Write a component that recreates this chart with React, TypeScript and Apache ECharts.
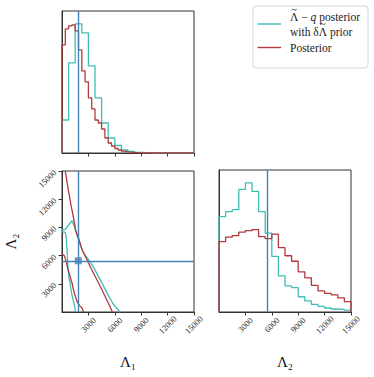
import React, { useEffect, useRef } from "react";
import * as echarts from "echarts";

// ---- data ----
const LAMBDA_MIN = 0;
const LAMBDA_MAX = 15000;
const TICKS = [3000, 6000, 9000, 12000, 15000];
const WIDE_BIN = 750;
const NARROW_BIN = 375;
const TRUE_L1 = 1850;
const TRUE_L2 = 5450;

// Lambda_1 marginal (top-left)
const cyanL1 = [33, 90, 129, 120, 87, 55, 30, 15, 7.5, 3, 1.7, 0.7, 0.3, 0, 0, 0, 0, 0, 0, 0];
const redL1 = [
  108, 124, 127, 128, 122, 103, 82, 71, 55, 44, 33, 30, 24, 15, 10, 7, 4.5, 3, 1.8, 1.2,
  0.8, 0.5, 0.3, 0.2, 0, 0, 0, 0, 0, 0, 0, 0, 0, 0, 0, 0, 0, 0, 0, 0,
];

// Lambda_2 marginal (bottom-right)
const cyanL2 = [95, 100, 102, 122, 128.5, 120, 100, 78.5, 55.3, 36, 26, 24.3, 15.2, 11, 7.5, 5.5, 4, 3, 2.7, 1.8];
const redL2 = [70, 74.5, 76, 79.5, 81, 82, 75, 73, 77.5, 64, 56, 50.5, 40, 34, 26.5, 21, 18.5, 17, 14, 10.3];

// 2D contours (bottom-left), [Lambda_1, Lambda_2]
const cyanOuter = [
  [0, 8725], [374, 8799], [752, 9257], [1130, 9725], [1399, 9087], [1701, 8193], [2075, 7129],
  [2453, 6245], [2950, 5650], [3550, 4831], [4150, 3767], [4750, 2703], [5320, 1639],
  [5900, 745], [6400, 213], [6600, 0],
];
const cyanInner = [
  [0, 8555], [374, 8480], [488, 7842], [563, 6778], [639, 5360], [752, 3937], [941, 2873],
  [1130, 1809], [1319, 1107], [1474, 394], [1512, 0],
];
const redOuter = [
  [374, 15000], [563, 13875], [752, 12810], [1017, 11385], [1319, 9970], [1584, 8555],
  [1900, 7800], [2300, 6597], [2750, 5714], [3300, 4650], [3880, 3586], [4450, 2522],
  [5000, 1458], [5450, 575], [5720, 0],
];
const redInner = [
  [0, 6139], [261, 6000], [488, 5360], [639, 4681], [866, 3976], [1134, 3086], [1399, 2022],
  [1701, 1135], [1966, 709], [2268, 425], [2453, 0],
];

// legend texts
const LEGEND_CYAN_1 = ["Λ", " − ", "q", " posterior"];
const LEGEND_CYAN_2 = ["with δ", "Λ", " prior"];
const LEGEND_RED = "Posterior";

// ---- styles ----
const CYAN = "#3dbfb5";
const RED = "#b3383b";
const BLUE = "#4682b4";
const FRAME = "#333333";
const FONT = "Liberation Serif";
const LEG_FS = 11.5;

function stepData(values: number[], bin: number) {
  const pts: number[][] = [[LAMBDA_MIN, 0]];
  values.forEach((v, i) => pts.push([LAMBDA_MIN + i * bin, v]));
  const last = values[values.length - 1];
  pts.push([LAMBDA_MIN + values.length * bin, last]);
  pts.push([LAMBDA_MIN + values.length * bin, 0]);
  return pts;
}

const histLine = (data: number[][], color: string, xi: number) => ({
  type: "line",
  xAxisIndex: xi,
  yAxisIndex: xi,
  data,
  step: "end",
  showSymbol: false,
  symbol: "none",
  lineStyle: { color, width: 1.3 },
  silent: true,
  clip: true,
});

const contour = (data: number[][], color: string) => ({
  type: "line",
  xAxisIndex: 1,
  yAxisIndex: 1,
  data,
  showSymbol: false,
  symbol: "none",
  lineStyle: { color, width: 1.3 },
  silent: true,
  clip: true,
});

const tickLabelStyle = {
  fontFamily: FONT,
  fontSize: 8.5,
  color: "#222",
  formatter: (v: number) => String(v),
};

const valueAxisBase = {
  type: "value",
  min: LAMBDA_MIN,
  max: LAMBDA_MAX,
  splitLine: { show: false },
  axisLine: { show: true, lineStyle: { color: FRAME, width: 1 } },
};

function measure(text: string, italic = false) {
  const c = document.createElement("canvas").getContext("2d");
  if (!c) return text.length * LEG_FS * 0.5;
  c.font = `${italic ? "italic " : ""}${LEG_FS}px "${FONT}"`;
  return c.measureText(text).width;
}

export default function App() {
  const ref = useRef<HTMLDivElement>(null);
  useEffect(() => {
    document.body.style.margin = "0";
    if (!ref.current) return;
    const chart = echarts.init(ref.current, undefined, { renderer: "svg" });
    const maxL1 = Math.max(...cyanL1, ...redL1) * 1.1;
    const maxL2 = Math.max(...cyanL2, ...redL2) * 1.1;

    const xTickAxis = (gi: number, showLabels: boolean, name: string) => ({
      ...valueAxisBase,
      gridIndex: gi,
      axisTick: {
        show: true,
        customValues: TICKS,
        length: 3.5,
        lineStyle: { color: FRAME, width: 1 },
      },
      axisLabel: showLabels
        ? {
            show: true,
            customValues: TICKS,
            rotate: 45,
            align: "center",
            verticalAlign: "middle",
            margin: 13,
            ...tickLabelStyle,
          }
        : { show: false },
      name,
      nameLocation: "middle",
      nameGap: 42,
      nameTextStyle: { fontFamily: FONT, fontSize: 15, color: "#111" },
    });

    // legend text layout
    const lx = 290;
    const y1 = 17.2;
    const y2 = 31.6;
    const wL = measure("Λ");
    const wMinus = measure(LEGEND_CYAN_1[1]);
    const wQ = measure(LEGEND_CYAN_1[2], true);
    const wWith = measure(LEGEND_CYAN_2[0]);
    const legendText = (text: string, x: number, y: number, italic = false) => ({
      type: "text",
      x,
      y,
      z: 11,
      style: {
        text,
        fontFamily: FONT,
        fontSize: LEG_FS,
        lineHeight: 11,
        fontStyle: italic ? "italic" : "normal",
        fill: "#222",
        verticalAlign: "middle",
      },
    });
    // tilde accent drawn as a small curve above the Lambda glyph
    const tilde = (cx: number, y: number) => ({
      type: "bezierCurve",
      z: 12,
      shape: {
        x1: cx - 2.6, y1: y + 0.7,
        cpx1: cx - 0.8, cpy1: y - 2.2,
        cpx2: cx + 0.8, cpy2: y + 2.2,
        x2: cx + 2.6, y2: y - 0.7,
      },
      style: { stroke: "#222", lineWidth: 0.8, fill: null },
    });

    chart.setOption({
      animation: false,
      grid: [
        { left: 62, top: 11, width: 132, height: 142, show: true, borderColor: FRAME, borderWidth: 1, backgroundColor: "transparent" },
        { left: 62, top: 171, width: 132, height: 141, show: true, borderColor: FRAME, borderWidth: 1, backgroundColor: "transparent" },
        { left: 219, top: 170, width: 132, height: 142, show: true, borderColor: FRAME, borderWidth: 1, backgroundColor: "transparent" },
      ],
      xAxis: [
        xTickAxis(0, false, ""),
        xTickAxis(1, true, "Λ₁"),
        xTickAxis(2, true, "Λ₂"),
      ],
      yAxis: [
        {
          type: "value",
          gridIndex: 0,
          min: 0,
          max: maxL1,
          splitLine: { show: false },
          axisLine: { show: true, lineStyle: { color: FRAME } },
          axisTick: { show: false },
          axisLabel: { show: false },
        },
        {
          ...valueAxisBase,
          gridIndex: 1,
          axisTick: {
            show: true,
            customValues: TICKS,
            length: 3.5,
            lineStyle: { color: FRAME, width: 1 },
          },
          axisLabel: {
            show: true,
            customValues: TICKS,
            rotate: 45,
            margin: 7,
            ...tickLabelStyle,
          },
          name: "Λ₂",
          nameLocation: "middle",
          nameGap: 44,
          nameTextStyle: { fontFamily: FONT, fontSize: 15, color: "#111" },
        },
        {
          type: "value",
          gridIndex: 2,
          min: 0,
          max: maxL2,
          splitLine: { show: false },
          axisLine: { show: true, lineStyle: { color: FRAME } },
          axisTick: { show: false },
          axisLabel: { show: false },
        },
      ],
      series: [
        {
          ...histLine(stepData(cyanL1, WIDE_BIN), CYAN, 0),
          markLine: {
            symbol: "none",
            silent: true,
            label: { show: false },
            lineStyle: { color: BLUE, width: 1.4, type: "solid" },
            data: [{ xAxis: TRUE_L1 }],
          },
        },
        histLine(stepData(redL1, NARROW_BIN), RED, 0),
        contour(cyanOuter, CYAN),
        contour(cyanInner, CYAN),
        contour(redOuter, RED),
        contour(redInner, RED),
        {
          type: "scatter",
          xAxisIndex: 1,
          yAxisIndex: 1,
          data: [[TRUE_L1, TRUE_L2]],
          symbol: "rect",
          symbolSize: 7,
          itemStyle: { color: BLUE },
          silent: true,
          z: 5,
          markLine: {
            symbol: "none",
            silent: true,
            label: { show: false },
            lineStyle: { color: BLUE, width: 1.4, type: "solid" },
            data: [{ xAxis: TRUE_L1 }, { yAxis: TRUE_L2 }],
          },
        },
        {
          ...histLine(stepData(cyanL2, WIDE_BIN), CYAN, 2),
          markLine: {
            symbol: "none",
            silent: true,
            label: { show: false },
            lineStyle: { color: BLUE, width: 1.4, type: "solid" },
            data: [{ xAxis: TRUE_L2 }],
          },
        },
        histLine(stepData(redL2, WIDE_BIN), RED, 2),
      ],
      graphic: [
        {
          type: "rect",
          shape: { x: 253, y: 6, width: 115, height: 62, r: 3 },
          style: { fill: "rgba(255,255,255,0.85)", stroke: "#cccccc", lineWidth: 0.8 },
          z: 10,
        },
        {
          type: "line",
          shape: { x1: 257.5, y1: 24, x2: 281, y2: 24 },
          style: { stroke: CYAN, lineWidth: 1.4 },
          z: 11,
        },
        legendText(LEGEND_CYAN_1[0], lx, y1),
        tilde(lx + wL / 2, y1 - 7.5),
        legendText(LEGEND_CYAN_1[1], lx + wL, y1),
        legendText(LEGEND_CYAN_1[2], lx + wL + wMinus, y1, true),
        legendText(LEGEND_CYAN_1[3], lx + wL + wMinus + wQ, y1),
        legendText(LEGEND_CYAN_2[0], lx, y2),
        legendText(LEGEND_CYAN_2[1], lx + wWith, y2),
        tilde(lx + wWith + wL / 2, y2 - 7.5),
        legendText(LEGEND_CYAN_2[2], lx + wWith + wL, y2),
        {
          type: "line",
          shape: { x1: 257.5, y1: 47.5, x2: 281, y2: 47.5 },
          style: { stroke: RED, lineWidth: 1.4 },
          z: 11,
        },
        legendText(LEGEND_RED, lx, 48),
      ],
    });
    return () => chart.dispose();
  }, []);
  return <div ref={ref} style={{ width: 374, height: 377 }} />;
}
